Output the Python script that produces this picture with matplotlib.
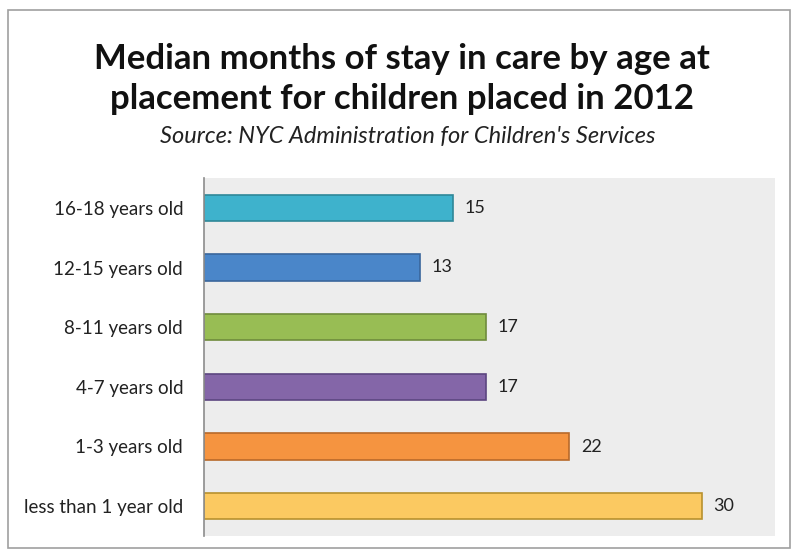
import matplotlib.pyplot as plt
from matplotlib.patches import Rectangle

# data, bottom to top
ages = ['less than 1 year old', '1-3 years old', '4-7 years old',
        '8-11 years old', '12-15 years old', '16-18 years old']
months = [30, 22, 17, 17, 13, 15]
fills = ['#FBC961', '#F59440', '#8466A8', '#98BD54', '#4A86C9', '#3EB2CC']
edges = ['#B8912E', '#B8692A', '#5C4680', '#6F8B3C', '#3A669C', '#2F8798']

plt.rcParams['font.family'] = ['Lato', 'DejaVu Sans']

fig = plt.figure(figsize=(7.96, 5.54), dpi=100)
W, H = 796, 554

# outer frame
fig.patches.append(Rectangle((8 / W, 1 - 548 / H), 782 / W, 538 / H,
                             transform=fig.transFigure, fill=False,
                             edgecolor='#A0A0A0', linewidth=1.2))

ax = fig.add_axes([204 / W, 1 - 536 / H, 571 / W, 358 / H])
ax.set_facecolor('#EDEDED')

ax.barh(range(len(ages)), months, height=0.44, color=fills,
        edgecolor=edges, linewidth=1.2, zorder=2)
for i, v in enumerate(months):
    ax.text(v + 0.7, i, str(v), va='center', ha='left', fontsize=13,
            color='#222222')

ax.set_xlim(0, 34.4)
ax.set_ylim(-0.5, len(ages) - 0.5)
ax.set_yticks(range(len(ages)))
ax.set_yticklabels(ages, fontsize=13.5, color='#222222')
ax.tick_params(axis='y', length=0, pad=15)
ax.set_xticks([])
for side in ['top', 'right', 'bottom']:
    ax.spines[side].set_visible(False)
ax.spines['left'].set_color('#8C8C8C')
ax.spines['left'].set_linewidth(1.2)

fig.text(402 / W, 1 - 79 / H, 'Median months of stay in care by age at\nplacement for children placed in 2012',
         ha='center', va='center', fontsize=25, fontweight='bold',
         linespacing=1.3, color='#111111')
fig.text(408 / W, 1 - 137 / H, "Source: NYC Administration for Children's Services",
         ha='center', va='center', fontsize=17, style='italic', color='#222222')

fig.savefig('out.png', dpi=100)
